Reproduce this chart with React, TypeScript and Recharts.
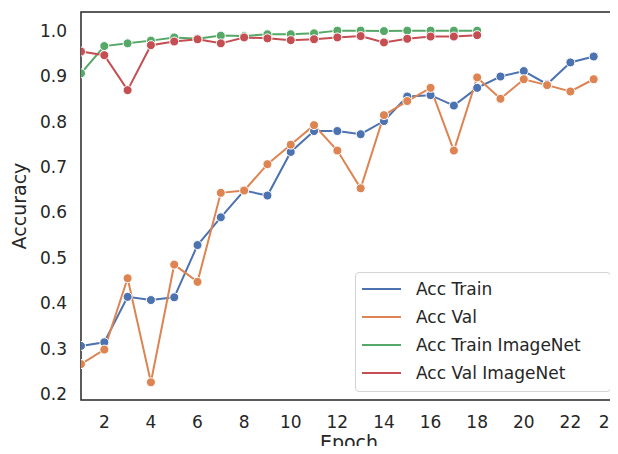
import { LineChart, Line, XAxis, YAxis, Legend, ReferenceArea } from 'recharts';

const epochs = [1, 2, 3, 4, 5, 6, 7, 8, 9, 10, 11, 12, 13, 14, 15, 16, 17, 18, 19, 20, 21, 22, 23];

const accTrain = [0.306, 0.314, 0.414, 0.407, 0.413, 0.528, 0.589, 0.648, 0.637, 0.733, 0.779, 0.779,
  0.772, 0.801, 0.855, 0.858, 0.835, 0.874, 0.899, 0.911, 0.882, 0.930, 0.943];
const accVal = [0.266, 0.298, 0.455, 0.226, 0.485, 0.447, 0.643, 0.648, 0.706, 0.749, 0.792, 0.736,
  0.653, 0.814, 0.845, 0.874, 0.736, 0.897, 0.850, 0.893, 0.880, 0.866, 0.893];
const accTrainImageNet = [0.906, 0.966, 0.972, 0.978, 0.985, 0.982, 0.989, 0.988, 0.992, 0.992, 0.994,
  1.0, 1.0, 0.999, 1.0, 1.0, 1.0, 1.0];
const accValImageNet = [0.954, 0.946, 0.869, 0.968, 0.976, 0.981, 0.972, 0.985, 0.983, 0.979, 0.981,
  0.985, 0.988, 0.974, 0.982, 0.987, 0.987, 0.99];

const xTicks = [2, 4, 6, 8, 10, 12, 14, 16, 18, 20, 22, 24];
const yTicks = [0.2, 0.3, 0.4, 0.5, 0.6, 0.7, 0.8, 0.9, 1.0];

const series = [
  { key: 'train', name: 'Acc Train', color: '#4c72b0', values: accTrain },
  { key: 'val', name: 'Acc Val', color: '#dd8452', values: accVal },
  { key: 'trainIn', name: 'Acc Train ImageNet', color: '#55a868', values: accTrainImageNet },
  { key: 'valIn', name: 'Acc Val ImageNet', color: '#c44e52', values: accValImageNet },
];

const data = epochs.map((e, i) => {
  const row: Record<string, number | undefined> = { epoch: e };
  series.forEach(s => { row[s.key] = s.values[i]; });
  return row;
});

const FONT = '"DejaVu Sans", sans-serif';
const INK = '#262626';

function LegendBox() {
  return (
    <div style={{
      border: '1px solid #d4d4d4', borderRadius: 4, background: 'rgba(255,255,255,0.8)',
      padding: '2px 10px 4px 6px', fontFamily: FONT, fontSize: 17, color: INK, width: 238,
    }}>
      {series.map(s => (
        <div key={s.key} style={{ display: 'flex', alignItems: 'center', height: 28 }}>
          <span style={{ display: 'inline-block', width: 39, height: 2, background: s.color, marginRight: 15 }} />
          <span>{s.name}</span>
        </div>
      ))}
    </div>
  );
}

export default function App() {
  return (
    <div style={{ margin: -8, width: 618, height: 454, overflow: 'hidden', background: '#fff' }}>
      <LineChart width={618} height={454} data={data} margin={{ top: 12, right: 1, left: 0, bottom: 0 }}>
        <XAxis
          dataKey="epoch"
          type="number"
          domain={[1, 24]}
          ticks={xTicks}
          allowDataOverflow
          tickSize={0}
          tickMargin={16}
          height={54}
          axisLine={false}
          tick={{ fill: INK, fontSize: 17, fontFamily: FONT }}
          label={{ value: 'Epoch', position: 'insideBottom', offset: 5, fill: INK, fontSize: 19, fontFamily: FONT }}
        />
        <YAxis
          type="number"
          domain={[0.187, 1.041]}
          ticks={yTicks}
          allowDataOverflow
          width={81}
          tickSize={0}
          tickMargin={14}
          axisLine={false}
          tickFormatter={(v: number) => v.toFixed(1)}
          tick={{ fill: INK, fontSize: 17, fontFamily: FONT }}
          label={{ value: 'Accuracy', angle: -90, position: 'insideLeft', offset: 19, fill: INK, fontSize: 19, fontFamily: FONT, style: { textAnchor: 'middle' } }}
        />
        <ReferenceArea x1={1} x2={24} y1={0.187} y2={1.041} fill="none" stroke={INK} strokeWidth={1.5} ifOverflow="visible" />
        {series.map(s => (
          <Line
            key={s.key}
            dataKey={s.key}
            name={s.name}
            type="linear"
            stroke={s.color}
            strokeWidth={2}
            dot={{ r: 4.5, fill: s.color, stroke: '#fff', strokeWidth: 1 }}
            activeDot={false}
            isAnimationActive={false}
          />
        ))}
        <Legend
          layout="vertical"
          align="center"
          verticalAlign="middle"
          content={() => <LegendBox />}
          wrapperStyle={{ position: 'absolute', left: 355, top: 272, width: 256 }}
        />
      </LineChart>
    </div>
  );
}
